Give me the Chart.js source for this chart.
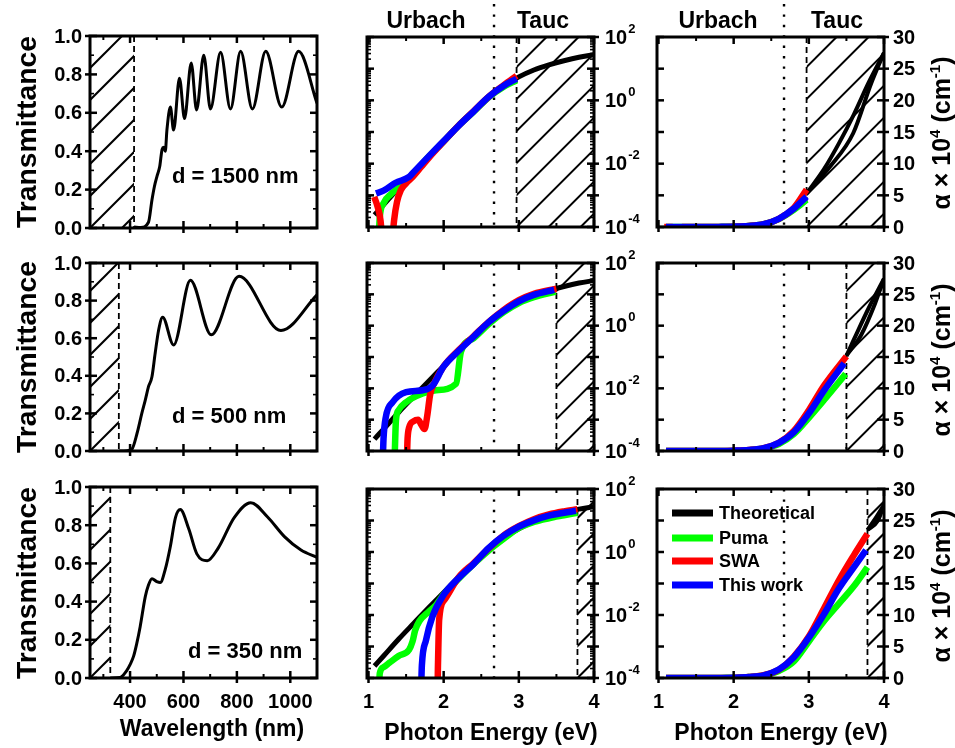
<!DOCTYPE html>
<html lang="en">
<head>
<meta charset="UTF-8">
<title>Transmittance and absorption coefficient</title>
<script src="https://cdn.jsdelivr.net/npm/chart.js"></script>
<style>
  body { margin: 0; background: #fff; }
  #page {
    position: relative; width: 955px; height: 748px; overflow: hidden;
    font-family: "Liberation Sans", Arial, Helvetica, sans-serif; font-weight: bold; color: #000;
  }
  canvas { position: absolute; }
  .lbl { position: absolute; white-space: nowrap; transform: translate(-50%, -50%); }
  .ytitle { position: absolute; white-space: nowrap; font-size: 27px;
            transform: translate(-50%, -50%) rotate(-90deg) scaleX(1.05); }
  .atitle { position: absolute; white-space: nowrap; font-size: 25px;
            transform: translate(-50%, -50%) rotate(-90deg); }
  .atitle sup { font-size: 15px; vertical-align: 10px; line-height: 0; }
  .note { position: absolute; white-space: nowrap; font-size: 22px; transform: translateY(-50%); }
  .key { position: absolute; left: 672px; font-size: 18px; display: flex; align-items: center;
         transform: translateY(-50%); white-space: nowrap; }
  .key span { display: inline-block; width: 41px; height: 7px; margin-right: 6px; }
</style>
</head>
<body>
<div id="page">
  <div class="lbl" style="left:426px;top:20px;font-size:23px">Urbach</div>
  <div class="lbl" style="left:543px;top:20px;font-size:23px">Tauc</div>
  <div class="lbl" style="left:718px;top:20px;font-size:23px">Urbach</div>
  <div class="lbl" style="left:837px;top:20px;font-size:23px">Tauc</div>

  <div class="ytitle" style="left:27px;top:132px">Transmittance</div>
  <div class="ytitle" style="left:27px;top:357px">Transmittance</div>
  <div class="ytitle" style="left:27px;top:583px">Transmittance</div>

  <div class="atitle" style="left:941px;top:133px">&alpha; &times; 10<sup>4</sup> (cm<sup>-1</sup>)</div>
  <div class="atitle" style="left:941px;top:360px">&alpha; &times; 10<sup>4</sup> (cm<sup>-1</sup>)</div>
  <div class="atitle" style="left:941px;top:586px">&alpha; &times; 10<sup>4</sup> (cm<sup>-1</sup>)</div>

  <div class="note" style="left:172px;top:176px">d = 1500 nm</div>
  <div class="note" style="left:172px;top:416px">d = 500 nm</div>
  <div class="note" style="left:188px;top:651px">d = 350 nm</div>

  <div class="lbl" style="left:212px;top:728px;font-size:23px">Wavelength (nm)</div>
  <div class="lbl" style="left:491px;top:732px;font-size:23px">Photon Energy (eV)</div>
  <div class="lbl" style="left:781px;top:732px;font-size:23px">Photon Energy (eV)</div>

  <div class="key" style="top:513px"><span style="background:#000"></span>Theoretical</div>
  <div class="key" style="top:538px"><span style="background:#00ff00"></span>Puma</div>
  <div class="key" style="top:561px"><span style="background:#ff0000"></span>SWA</div>
  <div class="key" style="top:585px"><span style="background:#0000ff"></span>This work</div>
</div>

<script>
// ---- transmittance spectra (wavelength in nm) ----
const wl1500 = [415, 440, 469, 482, 491, 501, 511, 520, 526, 532, 538, 551, 563, 585, 604, 629, 649, 676, 701, 739, 776, 814, 858, 908, 968, 1031, 1100];
const tr1500 = [0.005, 0.003, 0.03, 0.146, 0.215, 0.27, 0.32, 0.41, 0.42, 0.40, 0.51, 0.63, 0.51, 0.78, 0.57, 0.86, 0.615, 0.90, 0.62, 0.915, 0.62, 0.92, 0.62, 0.92, 0.63, 0.92, 0.65];
const wl500 = [358, 390, 407, 426, 444, 457, 469, 482, 494, 507, 522, 563, 626, 704, 808, 965, 1100];
const tr500 = [0.0, 0.002, 0.01, 0.093, 0.2, 0.271, 0.342, 0.395, 0.52, 0.644, 0.712, 0.564, 0.908, 0.618, 0.929, 0.641, 0.831];
const wl350 = [326, 363, 388, 400, 413, 425, 438, 457, 469, 482, 500, 513, 532, 551, 570, 588, 620, 650, 689, 730, 790, 852, 915, 979, 1040, 1100];
const tr350 = [0.0, 0.003, 0.04, 0.07, 0.113, 0.18, 0.27, 0.426, 0.487, 0.52, 0.505, 0.50, 0.57, 0.69, 0.84, 0.882, 0.78, 0.65, 0.614, 0.68, 0.84, 0.918, 0.843, 0.739, 0.67, 0.631];
const cutoffNm = [415, 358, 326];

// ---- absorption coefficient, alpha x 1e4 (cm^-1), vs photon energy (eV) ----
const theoE = [1.08, 1.2, 1.4, 1.6, 1.8, 2.0, 2.2, 2.4, 2.6, 2.8, 3.0, 3.2, 3.4, 3.6, 3.8, 4.0];
const theoA = [2.4e-4, 5.0e-4, 1.7e-3, 5.4e-3, 0.017, 0.052, 0.16, 0.45, 1.26, 2.8, 5.5, 9.1, 13.2, 17.8, 22.9, 27.5];

// d = 1500 nm
const puma1E = [1.1, 1.13, 1.15, 1.2, 1.3, 1.41, 1.55, 1.7, 1.8, 2.0, 2.2, 2.4, 2.6, 2.8, 2.97];
const puma1A = [1e-6, 2.5e-5, 2.0e-4, 5.6e-4, 1.1e-3, 1.8e-3, 3.5e-3, 8.9e-3, 0.0166, 0.05, 0.16, 0.44, 1.25, 2.7, 4.3];
const swa1E = [1.076, 1.12, 1.16, 1.19, 1.25, 1.31, 1.34, 1.38, 1.43, 1.5, 1.586, 1.7, 1.8, 2.0, 2.2, 2.4, 2.6, 2.8, 2.97];
const swa1A = [8.9e-4, 4.5e-4, 1.6e-4, 2.5e-5, null, 2.5e-5, 1.6e-4, 6.3e-4, 1.45e-3, 2.4e-3, 3.8e-3, 7.9e-3, 0.0151, 0.05, 0.16, 0.46, 1.3, 3.0, 5.9];
const ours1E = [1.1, 1.2, 1.36, 1.54, 1.6, 1.8, 2.0, 2.2, 2.4, 2.6, 2.8, 2.97];
const ours1A = [1.15e-3, 1.4e-3, 2.5e-3, 3.8e-3, 5.4e-3, 0.017, 0.052, 0.158, 0.45, 1.3, 2.9, 4.8];

// d = 500 nm
const puma2E = [1.1, 1.34, 1.365, 1.4, 1.5, 1.72, 1.9, 2.165, 2.23, 2.4, 2.6, 2.8, 3.0, 3.2, 3.49];
const puma2A = [1e-6, 2.5e-5, 9.5e-4, 2.0e-3, 3.6e-3, 6.8e-3, 8.7e-3, 0.014, 0.148, 0.4, 1.12, 2.7, 5.3, 8.1, 12.3];
const swa2E = [1.1, 1.505, 1.52, 1.54, 1.6, 1.66, 1.7, 1.745, 1.78, 1.82, 1.87, 2.0, 2.2, 2.4, 2.6, 2.8, 3.0, 3.2, 3.5];
const swa2A = [1e-6, 2.5e-5, 2.5e-4, 5.6e-4, 8.9e-4, 1.0e-3, 7.1e-4, 5.0e-4, 1.26e-3, 6.3e-3, 0.0141, 0.05, 0.166, 0.468, 1.32, 3.2, 6.5, 10.4, 15.1];
const ours2E = [1.1, 1.185, 1.2, 1.23, 1.32, 1.5, 1.72, 1.85, 2.0, 2.2, 2.4, 2.6, 2.8, 3.0, 3.2, 3.47];
const ours2A = [1e-6, 2.5e-5, 2.5e-4, 1.2e-3, 3.6e-3, 7.6e-3, 8.7e-3, 0.012, 0.05, 0.158, 0.45, 1.3, 3.0, 6.0, 9.6, 14.0];

// d = 350 nm
const puma3E = [1.1, 1.135, 1.15, 1.2, 1.275, 1.4, 1.54, 1.586, 1.62, 1.676, 1.8, 1.9, 2.0, 2.2, 2.4, 2.6, 2.8, 3.0, 3.2, 3.4, 3.6, 3.78];
const puma3A = [1e-6, 2.5e-5, 1.4e-4, 2.2e-4, 3.0e-4, 5.0e-4, 7.9e-4, 1.45e-3, 3.2e-3, 6.3e-3, 0.0126, 0.021, 0.045, 0.141, 0.417, 1.12, 2.63, 5.8, 9.0, 11.8, 14.6, 17.6];
const swa3E = [1.1, 1.915, 1.925, 1.94, 2.01, 2.2, 2.4, 2.6, 2.8, 3.0, 3.2, 3.4, 3.6, 3.78];
const swa3A = [1e-6, 2.5e-5, 3.2e-4, 7.1e-3, 0.03, 0.158, 0.447, 1.3, 3.4, 6.6, 11.0, 15.5, 19.5, 22.9];
const ours3E = [1.1, 1.695, 1.71, 1.765, 1.85, 1.985, 2.2, 2.4, 2.6, 2.8, 3.0, 3.2, 3.4, 3.6, 3.76];
const ours3A = [1e-6, 2.5e-5, 2.5e-4, 1.6e-3, 8.9e-3, 0.039, 0.15, 0.42, 1.35, 3.3, 6.4, 10.1, 14.2, 17.6, 20.3];

// theoretical curve on the Tauc side of the linear panels (out and back)
const tail1E = [2.97, 3.2, 3.4, 3.6, 3.8, 4.0];
const tail1A = [5.3, 9.1, 13.2, 17.8, 22.9, 27.5];
const back1E = [2.97, 3.28, 3.59, 3.83, 4.0];
const back1A = [5.3, 9.5, 14.8, 22.7, 27.5];
const tail2E = [3.5, 3.6, 3.8, 4.0];
const tail2A = [15.2, 17.8, 22.9, 27.5];
const back2E = [3.5, 3.7, 3.88, 4.0];
const back2A = [15.2, 18.6, 23.5, 27.5];
const tail3E = [3.78, 3.9, 4.0];
const tail3A = [23.5, 25.6, 27.5];
const back3E = [3.78, 3.92, 4.0];
const back3A = [23.5, 25.0, 27.5];

const tauEdge = [2.97, 3.5, 3.78];
const urbachEdge = 2.67;

// ---- ticks ----
const wlTicks = [400, 600, 800, 1000];
const wlMinor = [300, 500, 700, 900, 1100];
const trTicks = [0, 0.2, 0.4, 0.6, 0.8, 1.0];
const trMinor = [0.1, 0.3, 0.5, 0.7, 0.9];
const eTicks = [1, 2, 3, 4];
const eMinor = [1.5, 2.5, 3.5];
const logDecades = [1e-4, 1e-3, 1e-2, 1e-1, 1, 10, 100];
const logLabelExp = [2, 0, -2, -4];
const alphaTicks = [0, 5, 10, 15, 20, 25, 30];

const logMinor = [];
logDecades.slice(0, -1).forEach(d => { for (let k = 2; k <= 9; k++) logMinor.push(d * k); });

const wls = [wl1500, wl500, wl350];
const trs = [tr1500, tr500, tr350];
const pumaE = [puma1E, puma2E, puma3E], pumaA = [puma1A, puma2A, puma3A];
const swaE = [swa1E, swa2E, swa3E], swaA = [swa1A, swa2A, swa3A];
const oursE = [ours1E, ours2E, ours3E], oursA = [ours1A, ours2A, ours3A];
const tailE = [tail1E, tail2E, tail3E], tailA = [tail1A, tail2A, tail3A];
const backE = [back1E, back2E, back3E], backA = [back1A, back2A, back3A];

const FONT = '"Liberation Sans", Arial, Helvetica, sans-serif';
const GREEN = '#00ff00', RED = '#ff0000', BLUE = '#0000ff';

// panel placement on the page
const cols = [
  { x: 0, w: 340, L: 90, R: 317 },
  { x: 340, w: 300, L: 367, R: 594 },
  { x: 640, w: 315, L: 657, R: 884 }
];
const rows = [{ y: 0, h: 245 }, { y: 245, h: 225 }, { y: 470, h: 278 }];
const plotTB = [
  [[36, 228], [263, 451], [487, 678]],
  [[37, 227], [263, 451], [489, 678]],
  [[37, 227], [263, 451], [489, 678]]
];

const decor = {};

function seg(ctx, x1, y1, x2, y2) {
  ctx.beginPath(); ctx.moveTo(x1, y1); ctx.lineTo(x2, y2); ctx.stroke();
}

// 45 degree hatching between x0 and x1, lines anchored at (anchor, bottom)
function hatch(ctx, a, x0, x1, anchor) {
  if (x1 <= x0) return;
  const h = a.bottom - a.top, step = 32;
  ctx.save();
  ctx.beginPath(); ctx.rect(x0, a.top, x1 - x0, h); ctx.clip();
  ctx.lineWidth = 2; ctx.setLineDash([]);
  const kMin = Math.floor((x0 - h - anchor) / step) - 1;
  const kMax = Math.ceil((x1 - anchor) / step) + 1;
  for (let k = kMin; k <= kMax; k++) {
    const s = anchor + k * step;
    seg(ctx, s, a.bottom, s + h, a.top);
  }
  ctx.restore();
}

const panelDecor = {
  id: 'panelDecor',
  beforeDatasetsDraw(chart) {
    const d = decor[chart.canvas.id];
    const ctx = chart.ctx, a = chart.chartArea, xs = chart.scales.x;
    ctx.save();
    ctx.strokeStyle = '#000';
    if (d.col === 0) {
      const xc = xs.getPixelForValue(d.cutoff);
      hatch(ctx, a, a.left, xc, a.left);
      ctx.lineWidth = 1.8; ctx.setLineDash([6, 4]);
      seg(ctx, xc, a.top, xc, a.bottom);
    } else {
      const xe = xs.getPixelForValue(d.edge);
      hatch(ctx, a, xe, a.right, xe);
      ctx.lineWidth = 1.8; ctx.setLineDash([6, 4]);
      seg(ctx, xe, a.top, xe, a.bottom);
      const xu = xs.getPixelForValue(urbachEdge);
      ctx.lineWidth = 2.4; ctx.setLineDash([2.4, 8]);
      seg(ctx, xu, d.row === 0 ? 4 : a.top, xu, a.bottom);
    }
    ctx.restore();
  },
  afterDatasetsDraw(chart) {
    const d = decor[chart.canvas.id];
    const ctx = chart.ctx, a = chart.chartArea, xs = chart.scales.x, ys = chart.scales.y;
    ctx.save();
    ctx.strokeStyle = '#000'; ctx.fillStyle = '#000'; ctx.setLineDash([]);

    // x ticks, pointing inwards on both edges
    const xMaj = d.col === 0 ? wlTicks : eTicks;
    const xMin = d.col === 0 ? wlMinor : eMinor;
    ctx.lineWidth = 2.5;
    xMaj.forEach(v => {
      const p = xs.getPixelForValue(v);
      seg(ctx, p, a.bottom + 5, p, a.bottom - 7);
      seg(ctx, p, a.top, p, a.top + 7);
    });
    ctx.lineWidth = 2;
    xMin.forEach(v => {
      const p = xs.getPixelForValue(v);
      seg(ctx, p, a.bottom, p, a.bottom - 4);
      seg(ctx, p, a.top, p, a.top + 4);
    });

    // y ticks
    const yMaj = d.col === 0 ? trTicks : d.col === 1 ? logDecades : alphaTicks;
    const yMin = d.col === 0 ? trMinor : d.col === 1 ? logMinor : [];
    const outL = d.col === 0 ? 5 : 0, outR = d.col === 0 ? 0 : 5;
    ctx.lineWidth = 2.5;
    yMaj.forEach(v => {
      const p = ys.getPixelForValue(v);
      seg(ctx, a.left - outL, p, a.left + 7, p);
      seg(ctx, a.right - 7, p, a.right + outR, p);
    });
    ctx.lineWidth = 1.6;
    yMin.forEach(v => {
      const p = ys.getPixelForValue(v);
      seg(ctx, a.left, p, a.left + 4, p);
      seg(ctx, a.right - 4, p, a.right, p);
    });

    ctx.lineWidth = 3;
    ctx.strokeRect(a.left, a.top, a.right - a.left, a.bottom - a.top);

    // tick labels
    ctx.font = 'bold 20px ' + FONT;
    ctx.textBaseline = 'middle';
    if (d.col === 0) {
      ctx.textAlign = 'right';
      trTicks.forEach(v => ctx.fillText(v.toFixed(1), a.left - 8, ys.getPixelForValue(v) + 1));
    } else if (d.col === 1) {
      logLabelExp.forEach(e => {
        const p = ys.getPixelForValue(Math.pow(10, e)) + 1;
        ctx.font = 'bold 20px ' + FONT; ctx.textAlign = 'left';
        ctx.fillText('10', a.right + 11, p);
        const w = ctx.measureText('10').width;
        ctx.font = 'bold 13px ' + FONT;
        ctx.fillText(String(e), a.right + 12 + w, p - 9);
      });
    } else {
      ctx.textAlign = 'left';
      alphaTicks.forEach(v => ctx.fillText(String(v), a.right + 9, ys.getPixelForValue(v) + 1));
    }
    if (d.row === 2) {
      ctx.font = 'bold 20px ' + FONT;
      ctx.textAlign = 'center';
      xMaj.forEach(v => ctx.fillText(String(v), xs.getPixelForValue(v), a.bottom + 24));
    }
    ctx.restore();
  }
};

const pts = (xs, ys) => xs.map((x, i) => ({ x: x, y: ys[i] }));

function curve(xs, ys, color, width, order) {
  return {
    data: pts(xs, ys), borderColor: color, backgroundColor: color, borderWidth: width,
    pointRadius: 0, fill: false, order: order, clip: 0, spanGaps: false,
    cubicInterpolationMode: 'monotone', borderJoinStyle: 'round'
  };
}

const page = document.getElementById('page');

for (let r = 0; r < 3; r++) {
  for (let c = 0; c < 3; c++) {
    const col = cols[c], row = rows[r];
    const [top, bottom] = plotTB[c][r];
    const cv = document.createElement('canvas');
    cv.id = 'p' + r + c;
    cv.width = col.w; cv.height = row.h;
    cv.style.left = col.x + 'px'; cv.style.top = row.y + 'px';
    page.insertBefore(cv, page.firstChild);
    decor[cv.id] = { row: r, col: c, cutoff: cutoffNm[r], edge: tauEdge[r] };

    let datasets, xRange, yScale;
    if (c === 0) {
      datasets = [curve(wls[r], trs[r], '#000', 3, 1)];
      xRange = [250, 1100];
      yScale = { type: 'linear', min: 0, max: 1 };
    } else {
      datasets = [
        curve(pumaE[r], pumaA[r], GREEN, 6.5, 3),
        curve(swaE[r], swaA[r], RED, 6.5, 2),
        curve(oursE[r], oursA[r], BLUE, 6.5, 1)
      ];
      if (c === 1) {
        datasets.unshift(curve(theoE, theoA, '#000', 5, 4));
        yScale = { type: 'logarithmic', min: 1e-4, max: 100 };
      } else {
        datasets.unshift(curve(tailE[r], tailA[r], '#000', 4, 4));
        datasets.unshift(curve(backE[r], backA[r], '#000', 4, 4));
        yScale = { type: 'linear', min: 0, max: 30 };
      }
      xRange = [0.98, 4.0];
    }

    new Chart(cv, {
      type: 'line',
      data: { datasets: datasets },
      options: {
        responsive: false,
        animation: false,
        devicePixelRatio: 1,
        layout: {
          padding: { left: col.L - col.x, right: col.x + col.w - col.R, top: top - row.y, bottom: row.y + row.h - bottom }
        },
        plugins: { legend: { display: false }, tooltip: { enabled: false } },
        scales: {
          x: { type: 'linear', min: xRange[0], max: xRange[1], display: false },
          y: Object.assign({ display: false }, yScale)
        }
      },
      plugins: [panelDecor]
    });
  }
}
</script>
</body>
</html>
